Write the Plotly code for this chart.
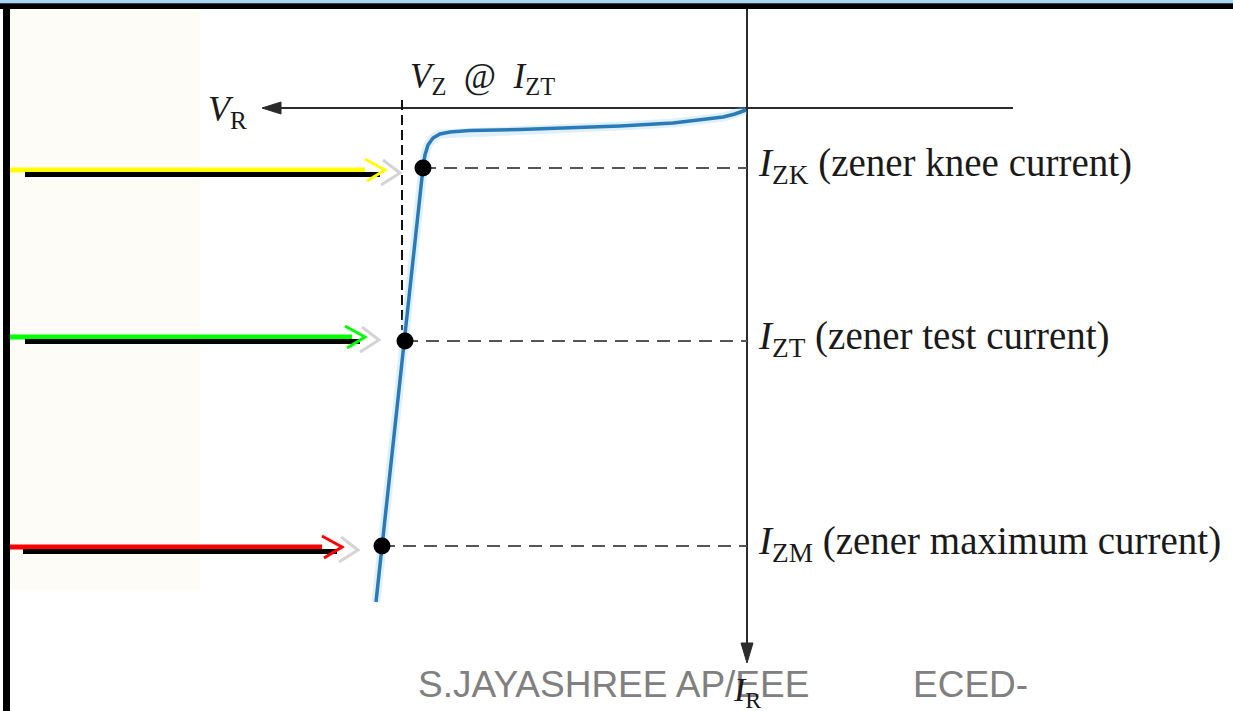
"""Zener diode reverse characteristic slide, redrawn with Plotly."""

import plotly.graph_objects as go

W, H = 1233, 711

# reverse-bias curve (V_R to the left, I_R downwards), image units
curve_x = [746, 735, 723, 700, 673, 620, 573, 520, 470, 450, 440, 433, 428, 425, 423, 376]
curve_y = [110, 114, 117, 120, 123, 126, 128, 129.5, 130.5, 132, 134, 138, 145, 155, 168, 602]

# operating points on the curve
point_names = ["I<sub>ZK</sub>", "I<sub>ZT</sub>", "I<sub>ZM</sub>"]
point_x = [423, 405, 382]
point_y = [168, 341, 546]
point_labels = [
    "<i>I</i><sub>ZK</sub> (zener knee current)",
    "<i>I</i><sub>ZT</sub> (zener test current)",
    "<i>I</i><sub>ZM</sub> (zener maximum current)",
]

# axes
axis_origin = (747, 108)
vr_axis_x = [280, 1013]
ir_axis_y = [9, 645]
vz_dash_x = 402
vz_dash_y = [100, 330]

# highlight arrows pointing at the three points
arrow_colors = ["#ffff00", "#00ff00", "#ff0000"]
arrow_y = [170, 337, 547]
arrow_start = [10, 10, 8]
arrow_end = [365, 352, 322]
arrow_tip = [385, 365, 342]
shadow_tip = [400, 379, 358]

BLUE = "#2a7ab8"
DASH_GREY = "#555555"
AXIS = "#2b2b2b"

fig = go.Figure()


def line(xs, ys, color, width, dash=None):
    fig.add_trace(go.Scatter(
        x=xs, y=ys, mode="lines", hoverinfo="skip",
        line=dict(color=color, width=width, dash=dash),
    ))


def tri(xs, ys, color):
    fig.add_trace(go.Scatter(
        x=xs, y=ys, mode="lines", fill="toself", fillcolor=color,
        line=dict(color=color, width=1), hoverinfo="skip",
    ))


# faint watermark on the left
fig.add_shape(type="rect", x0=10, x1=200, y0=10, y1=590, layer="below",
              line=dict(width=0), fillcolor="#fdfcf7")

# axes with arrowheads
ox, oy = axis_origin
line(vr_axis_x, [oy, oy], AXIS, 2)
tri([262, 281, 281, 262], [oy, oy - 6, oy + 6, oy], AXIS)
line([ox, ox], ir_axis_y, AXIS, 2)
tri([ox, ox - 6, ox + 6, ox], [663, 643, 643, 663], AXIS)

# V_Z dashed marker
line([vz_dash_x, vz_dash_x], vz_dash_y, "#111111", 2, dash="10px,5px")

# dashed levels from each point to the I_R axis
for px, py in zip(point_x, point_y):
    line([px, ox], [py, py], DASH_GREY, 2.2, dash="13px,8px")

# curve with a soft halo
line(curve_x, curve_y, "rgba(150,205,240,0.3)", 9)
line(curve_x, curve_y, BLUE, 3.5)

fig.add_trace(go.Scatter(
    x=point_x, y=point_y, mode="markers", text=point_names, hoverinfo="text",
    marker=dict(color="black", size=17),
))

# coloured pointer arrows (with black shadow and grey chevron echo)
for c, ay, a0, a1, tip, stip in zip(arrow_colors, arrow_y, arrow_start,
                                    arrow_end, arrow_tip, shadow_tip):
    line([stip - 17, stip, stip - 19], [ay - 10, ay + 3, ay + 15], "#d4d4d4", 3)
    line([a0, a1], [ay, ay], c, 5)
    line([a0 + 15, tip - 5], [ay + 4.5, ay + 4.5], "black", 5)
    line([tip - 20, tip, tip - 18], [ay - 11, ay, ay + 11], c, 3)

# text
SERIF = "Liberation Serif, Times New Roman, serif"
for lab, py in zip(point_labels, point_y):
    fig.add_annotation(x=756, y=py, text=lab, showarrow=False, xanchor="left",
                       yanchor="middle", yshift=3,
                       font=dict(family=SERIF, size=39, color="#1a1a1a"))

fig.add_annotation(x=408, y=78, text="<i>V</i><sub>Z</sub>  @  <i>I</i><sub>ZT</sub>",
                   showarrow=False, xanchor="left", yanchor="middle",
                   font=dict(family=SERIF, size=35, color="#1a1a1a"))
fig.add_annotation(x=206, y=111, text="<i>V</i><sub>R</sub>", showarrow=False,
                   xanchor="left", yanchor="middle",
                   font=dict(family=SERIF, size=36, color="#1a1a1a"))

SANS = "Liberation Sans, Arial, sans-serif"
fig.add_annotation(x=416, y=684, text="S.JAYASHREE AP/EEE", showarrow=False,
                   xanchor="left", yanchor="middle",
                   font=dict(family=SANS, size=37, color="#808080"))
fig.add_annotation(x=911, y=684, text="ECED-", showarrow=False,
                   xanchor="left", yanchor="middle",
                   font=dict(family=SANS, size=37, color="#808080"))
fig.add_annotation(x=731, y=692, text="<i>I</i><sub>R</sub>", showarrow=False,
                   xanchor="left", yanchor="middle",
                   font=dict(family=SERIF, size=34, color="#1a1a1a"))

# slide frame: light-blue strip, black top rule, black left rule
fig.add_shape(type="rect", x0=0, x1=W, y0=0, y1=3.3, line=dict(width=0),
              fillcolor="#a9d4f2")
fig.add_shape(type="rect", x0=0, x1=W, y0=3.3, y1=9, line=dict(width=0),
              fillcolor="black")
fig.add_shape(type="rect", x0=3, x1=10, y0=9, y1=H, line=dict(width=0),
              fillcolor="black")

fig.update_xaxes(range=[0, W], visible=False, fixedrange=True)
fig.update_yaxes(range=[H, 0], visible=False, fixedrange=True)
fig.update_layout(
    width=W, height=H,
    margin=dict(l=0, r=0, t=0, b=0),
    paper_bgcolor="white", plot_bgcolor="white",
    showlegend=False,
)

# drop the page's default body margin so the figure sits at the window corner
fig.write_html("out.html", config={"displayModeBar": False},
               post_script="document.body.style.margin='0';")
